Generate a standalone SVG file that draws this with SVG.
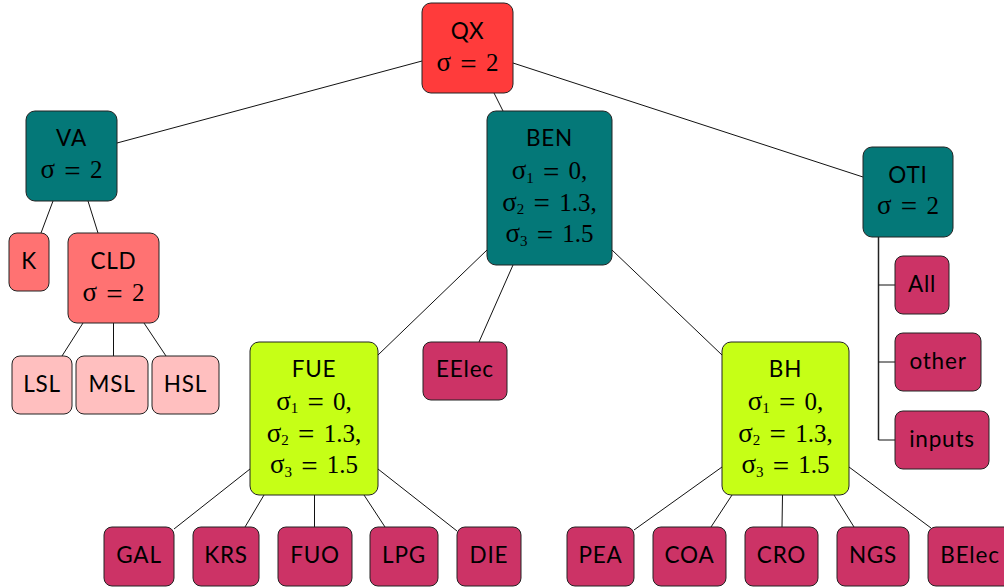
<svg xmlns="http://www.w3.org/2000/svg" width="1004" height="588" viewBox="0 0 1004 588">
<style>
rect{stroke:#222;stroke-width:1}
.red{fill:#FF3B3B}
.teal{fill:#047878}
.salmon{fill:#FF7272}
.pink{fill:#FFBFBF}
.lime{fill:#C6FF16}
.leaf{fill:#CC3366}
.lb{font-family:Lato,"Liberation Sans",sans-serif;font-size:22.5px;letter-spacing:0.8px;fill:#000;text-anchor:middle}
.m{font-family:"Liberation Serif",serif;font-size:25px;fill:#000;text-anchor:middle;word-spacing:3px}
.s{font-size:27px}
.sub{font-size:15px}
.eq{font-size:29px}
#connectors line{stroke:#111;stroke-width:1}
#connectors .trunk{stroke:#222;stroke-width:1.5}
</style>
<g id="connectors" fill="none">
<line x1="422" y1="61" x2="117" y2="143"/>
<line x1="494" y1="93" x2="503" y2="111"/>
<line x1="513" y1="63" x2="863" y2="177"/>
<line x1="53" y1="201" x2="41" y2="233"/>
<line x1="88" y1="201" x2="98" y2="233"/>
<line x1="83" y1="323" x2="62" y2="356"/>
<line x1="113.5" y1="323" x2="113.5" y2="356"/>
<line x1="144" y1="323" x2="166" y2="356"/>
<line x1="487" y1="250" x2="378" y2="355"/>
<line x1="513" y1="265" x2="479" y2="342"/>
<line x1="612" y1="250" x2="722" y2="355"/>
<line x1="250" y1="469" x2="174" y2="529"/>
<line x1="264" y1="495" x2="245" y2="527"/>
<line x1="314.5" y1="495" x2="314.5" y2="527"/>
<line x1="364" y1="495" x2="385" y2="527"/>
<line x1="378" y1="469" x2="457" y2="531"/>
<line x1="722" y1="467" x2="634" y2="530"/>
<line x1="732" y1="495" x2="711" y2="527"/>
<line x1="782.5" y1="495" x2="782" y2="527"/>
<line x1="834" y1="495" x2="854" y2="527"/>
<line x1="849" y1="467" x2="931" y2="528"/>
<line class="trunk" x1="878.5" y1="237" x2="878.5" y2="440"/>
<line x1="878.5" y1="285" x2="895" y2="285"/>
<line x1="878.5" y1="362" x2="895" y2="362"/>
<line x1="878.5" y1="440" x2="895" y2="440"/>
</g>
<g id="QX"><rect class="red" x="422" y="3" width="91" height="90" rx="9"/><text class="lb" x="467.5" y="38.5">QX</text><text class="m" x="467.5" y="71"><tspan class="s">σ</tspan> <tspan class="eq" dy="2.5">=</tspan><tspan dy="-2.5"> 2</tspan></text></g>
<g id="VA"><rect class="teal" x="26" y="111" width="91" height="90" rx="9"/><text class="lb" x="71.5" y="146">VA</text><text class="m" x="71.5" y="178"><tspan class="s">σ</tspan> <tspan class="eq" dy="2.5">=</tspan><tspan dy="-2.5"> 2</tspan></text></g>
<g id="BEN"><rect class="teal" x="487" y="111" width="125" height="154" rx="9"/><text class="lb" x="549.5" y="145.5">BEN</text>
<text class="m" x="549.5" y="179"><tspan class="s">σ</tspan><tspan class="sub" dy="3.5">1</tspan><tspan dy="-3.5"> </tspan><tspan class="eq" dy="2.5">=</tspan><tspan dy="-2.5"> 0,</tspan></text>
<text class="m" x="549.5" y="210.5"><tspan class="s">σ</tspan><tspan class="sub" dy="3.5">2</tspan><tspan dy="-3.5"> </tspan><tspan class="eq" dy="2.5">=</tspan><tspan dy="-2.5"> 1.3,</tspan></text>
<text class="m" x="549.5" y="242"><tspan class="s">σ</tspan><tspan class="sub" dy="3.5">3</tspan><tspan dy="-3.5"> </tspan><tspan class="eq" dy="2.5">=</tspan><tspan dy="-2.5"> 1.5</tspan></text></g>
<g id="OTI"><rect class="teal" x="863" y="147" width="90" height="90" rx="9"/><text class="lb" x="908" y="182.5">OTI</text><text class="m" x="908" y="213.5"><tspan class="s">σ</tspan> <tspan class="eq" dy="2.5">=</tspan><tspan dy="-2.5"> 2</tspan></text></g>
<g id="K"><rect class="salmon" x="9" y="233" width="40" height="58" rx="8"/><text class="lb" x="29" y="268.5">K</text></g>
<g id="CLD"><rect class="salmon" x="68" y="233" width="91" height="90" rx="9"/><text class="lb" x="113.5" y="269">CLD</text><text class="m" x="113.5" y="301"><tspan class="s">σ</tspan> <tspan class="eq" dy="2.5">=</tspan><tspan dy="-2.5"> 2</tspan></text></g>
<g id="LSL"><rect class="pink" x="12" y="356" width="60" height="58" rx="8"/><text class="lb" x="42" y="391.5">LSL</text></g>
<g id="MSL"><rect class="pink" x="76" y="356" width="72" height="58" rx="8"/><text class="lb" x="112" y="391.5">MSL</text></g>
<g id="HSL"><rect class="pink" x="152" y="356" width="67" height="58" rx="8"/><text class="lb" x="185.5" y="391.5">HSL</text></g>
<g id="FUE"><rect class="lime" x="250" y="342" width="128" height="153" rx="9"/><text class="lb" x="314" y="376.5">FUE</text>
<text class="m" x="314" y="409.5"><tspan class="s">σ</tspan><tspan class="sub" dy="3.5">1</tspan><tspan dy="-3.5"> </tspan><tspan class="eq" dy="2.5">=</tspan><tspan dy="-2.5"> 0,</tspan></text>
<text class="m" x="314" y="441.5"><tspan class="s">σ</tspan><tspan class="sub" dy="3.5">2</tspan><tspan dy="-3.5"> </tspan><tspan class="eq" dy="2.5">=</tspan><tspan dy="-2.5"> 1.3,</tspan></text>
<text class="m" x="314" y="473"><tspan class="s">σ</tspan><tspan class="sub" dy="3.5">3</tspan><tspan dy="-3.5"> </tspan><tspan class="eq" dy="2.5">=</tspan><tspan dy="-2.5"> 1.5</tspan></text></g>
<g id="EElec"><rect class="leaf" x="423" y="342" width="84" height="58" rx="8"/><text class="lb" x="465" y="377">EElec</text></g>
<g id="BH"><rect class="lime" x="722" y="342" width="127" height="153" rx="9"/><text class="lb" x="785.5" y="376.5">BH</text>
<text class="m" x="785.5" y="409.5"><tspan class="s">σ</tspan><tspan class="sub" dy="3.5">1</tspan><tspan dy="-3.5"> </tspan><tspan class="eq" dy="2.5">=</tspan><tspan dy="-2.5"> 0,</tspan></text>
<text class="m" x="785.5" y="441.5"><tspan class="s">σ</tspan><tspan class="sub" dy="3.5">2</tspan><tspan dy="-3.5"> </tspan><tspan class="eq" dy="2.5">=</tspan><tspan dy="-2.5"> 1.3,</tspan></text>
<text class="m" x="785.5" y="473"><tspan class="s">σ</tspan><tspan class="sub" dy="3.5">3</tspan><tspan dy="-3.5"> </tspan><tspan class="eq" dy="2.5">=</tspan><tspan dy="-2.5"> 1.5</tspan></text></g>
<g id="All"><rect class="leaf" x="895" y="256" width="54" height="58" rx="8"/><text class="lb" x="922" y="291.5">All</text></g>
<g id="other"><rect class="leaf" x="895" y="333" width="86" height="58" rx="8"/><text class="lb" x="938" y="368.5">other</text></g>
<g id="inputs"><rect class="leaf" x="895" y="411" width="94" height="58" rx="8"/><text class="lb" x="942" y="446.5">inputs</text></g>
<g id="GAL"><rect class="leaf" x="104" y="527" width="70" height="59" rx="8"/><text class="lb" x="139" y="563">GAL</text></g>
<g id="KRS"><rect class="leaf" x="193" y="527" width="66" height="59" rx="8"/><text class="lb" x="226" y="563">KRS</text></g>
<g id="FUO"><rect class="leaf" x="278" y="527" width="74" height="59" rx="8"/><text class="lb" x="315" y="563">FUO</text></g>
<g id="LPG"><rect class="leaf" x="370" y="527" width="68" height="59" rx="8"/><text class="lb" x="404" y="563">LPG</text></g>
<g id="DIE"><rect class="leaf" x="457" y="527" width="64" height="59" rx="8"/><text class="lb" x="489" y="563">DIE</text></g>
<g id="PEA"><rect class="leaf" x="567" y="527" width="67" height="59" rx="8"/><text class="lb" x="600.5" y="563">PEA</text></g>
<g id="COA"><rect class="leaf" x="653" y="527" width="73" height="59" rx="8"/><text class="lb" x="689.5" y="563">COA</text></g>
<g id="CRO"><rect class="leaf" x="745" y="527" width="73" height="59" rx="8"/><text class="lb" x="781.5" y="563">CRO</text></g>
<g id="NGS"><rect class="leaf" x="837" y="527" width="72" height="59" rx="8"/><text class="lb" x="873" y="563">NGS</text></g>
<g id="BElec"><rect class="leaf" x="928" y="527" width="84" height="59" rx="8"/><text class="lb" x="970" y="563">BElec</text></g>
</svg>
